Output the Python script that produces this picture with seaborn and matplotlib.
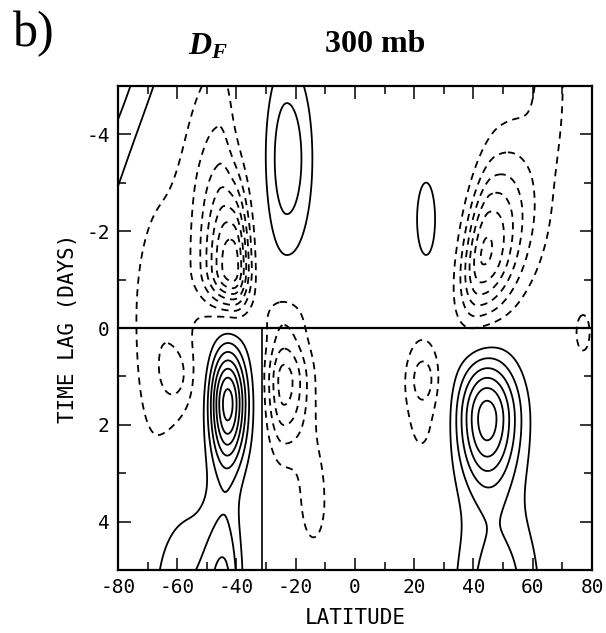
import numpy as np
import pandas as pd
import matplotlib
matplotlib.use("Agg")
import matplotlib.pyplot as plt
import seaborn as sns

# ---- data: anomaly centres (lat, lag, amplitude, spreads, tilt) ----
blob_lat = [-43, -44, -58, -41, -46, -66, -60, -24, -14, -24, -23, -80, 24, 43.5, 58, 66, 23, 23, 44.5, 48, 83, 77]
blob_lag = [1.55, 5.5, 5.5, -1.2, -3.3, -0.3, 1.0, 1.1, 3.6, -0.3, -3.5, -5.5, -2.2, -1.5, -2.6, -5.2, 1.05, 1.4, 1.85, 5.5, -3.8, 0.1]
blob_amp = [7.5, 3.0, 2.0, -7.5, -2.0, -1.9, -1.1, -4.5, -1.5, -1.2, 2.8, 2.4, 1.5, -6.0, -1.3, -1.5, -1.4, -1.4, 6.5, 2.6, 1.6, -1.3]
blob_sw = [4.3, 5, 8, 7.0, 9, 7, 4, 4, 4, 6, 5, 10, 3.5, 5.0, 8, 4, 3, 6, 7, 10, 3, 3]
blob_se = [4.5, 4, 8, 3.8, 4, 9, 4, 6, 4, 6, 6, 12, 3.5, 8.0, 8, 4, 3, 6, 7.5, 10, 3, 3]
blob_su = [0.8, 1.4, 1.5, 1.15, 1.8, 1.9, 0.45, 0.7, 1.0, 0.4, 1.4, 2.0, 0.9, 1.25, 1.5, 1.2, 0.35, 1.3, 0.85, 1.4, 0.6, 0.5]
blob_sd = [0.9, 1.0, 1.0, 0.55, 1.2, 2.4, 0.45, 1.0, 0.8, 0.4, 1.4, 4.0, 0.9, 0.9, 1.2, 1.2, 0.35, 1.3, 1.0, 1.0, 0.6, 0.5]
blob_tilt = [0, 0, 0, 0, 0, 0, 0, 0, 0, 0, 0, -5.0, 0, -2.0, 0, 0, 0, 0, 0, 0, 0, 0]

neg_levels = [-10, -9, -8, -7, -6, -5, -4, -3, -2, -1]
pos_levels = [1, 2, 3, 4, 5, 6, 7, 8, 9, 10]
x_ticks = [-80, -60, -40, -20, 0, 20, 40, 60, 80]
y_ticks = [-4, -2, 0, 2, 4]
seg_lat = [-31.5, -31.5]
seg_lag = [0, 5]

blobs = pd.DataFrame(dict(lat=blob_lat, lag=blob_lag, amp=blob_amp, sw=blob_sw,
                          se=blob_se, su=blob_su, sd=blob_sd, tilt=blob_tilt))

lat = np.linspace(-80, 80, 321)
lag = np.linspace(-5, 5, 401)
LA, LG = np.meshgrid(lat, lag)
F = np.zeros_like(LA)
for b in blobs.itertuples():
    cx = b.lat + b.tilt * (LG - b.lag)
    sx = np.where(LA < cx, b.sw, b.se)
    sy = np.where(LG < b.lag, b.su, b.sd)
    F += b.amp * np.exp(-0.5 * (((LA - cx) / sx) ** 2 + ((LG - b.lag) / sy) ** 2))

sns.set_theme(style="ticks")
plt.rcParams['font.family'] = ['DejaVu Sans Mono', 'DejaVu Sans']
plt.rcParams['mathtext.fontset'] = 'custom'
plt.rcParams['mathtext.it'] = 'Liberation Serif:italic:bold'
plt.rcParams['mathtext.rm'] = 'Liberation Serif:bold'
plt.rcParams['axes.unicode_minus'] = False
for k in ['text.color', 'axes.labelcolor', 'xtick.color', 'ytick.color']:
    plt.rcParams[k] = 'black'

fig = plt.figure(figsize=(6.06, 6.33), dpi=100)
ax = fig.add_axes([0.1947, 0.0995, 0.7822, 0.7646])

ax.contour(LA, LG, F, levels=pos_levels, colors='black', linewidths=1.3, linestyles='solid')
ax.contour(LA, LG, F, levels=neg_levels, colors='black', linewidths=1.3, linestyles=[(0, (4, 3))])
ax.axhline(0, color='black', lw=1.6)
sns.lineplot(x=seg_lat, y=seg_lag, color='black', lw=1.2, ax=ax, sort=False, estimator=None)

ax.set_xlim(-80, 80)
ax.set_ylim(5, -5)
ax.set_xticks(x_ticks)
ax.set_xticks(np.arange(-80, 81, 10), minor=True)
ax.set_yticks(y_ticks)
ax.set_yticks(np.arange(-5, 6, 1), minor=True)
ax.tick_params(which='both', direction='in', top=True, right=True, width=1.1, color='black')
ax.tick_params(which='major', length=9, labelsize=14, pad=6)
ax.tick_params(which='minor', length=6)
for s in ax.spines.values():
    s.set_linewidth(1.6)
    s.set_color('black')
ax.set_xlabel('LATITUDE', fontsize=15, labelpad=8)
ax.set_ylabel('TIME LAG (DAYS)', fontsize=15, labelpad=6)

fig.text(0.022, 0.947, 'b)', fontsize=36, va='center', ha='left', family='Liberation Serif')
fig.text(0.31, 0.928, r'$D_F$', fontsize=23, va='center', ha='left')
fig.text(0.619, 0.929, '300 mb', fontsize=23, va='center', ha='center',
         family='Liberation Serif', weight='bold')

fig.savefig('out.png', dpi=100, facecolor='white')
